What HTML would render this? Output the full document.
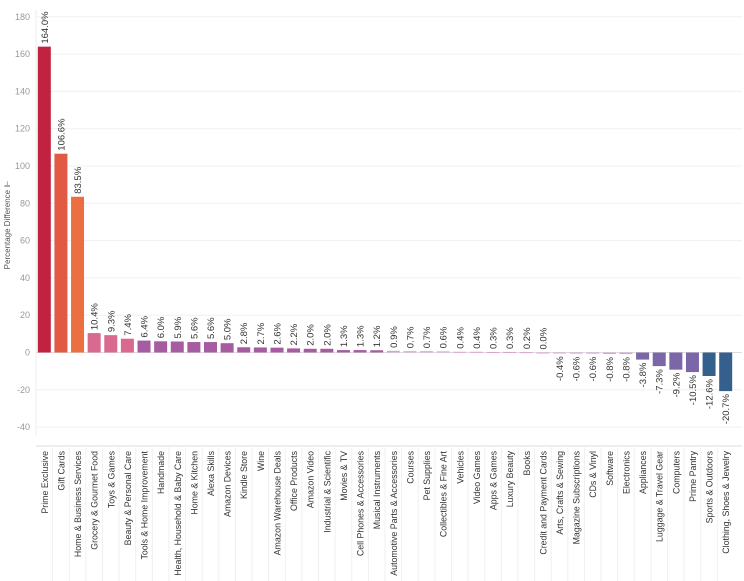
<!DOCTYPE html>
<html><head><meta charset="utf-8"><style>
body{margin:0;background:#fff;font-family:"Liberation Sans",sans-serif;}
svg{display:block}
</style></head><body>
<svg id="chart" width="744" height="581" xmlns="http://www.w3.org/2000/svg">
<g id="grid"></g>
<g id="yticks"></g>
<text transform="translate(10,225) rotate(-90)" text-anchor="middle" font-size="8" fill="#555">Percentage Difference ⊩</text>
<g id="bars"></g>
<g id="xlabels"></g>
</svg>
<script>
const categories=["Prime Exclusive","Gift Cards","Home & Business Services","Grocery & Gourmet Food","Toys & Games","Beauty & Personal Care","Tools & Home Improvement","Handmade","Health, Household & Baby Care","Home & Kitchen","Alexa Skills","Amazon Devices","Kindle Store","Wine","Amazon Warehouse Deals","Office Products","Amazon Video","Industrial & Scientific","Movies & TV","Cell Phones & Accessories","Musical Instruments","Automotive Parts & Accessories","Courses","Pet Supplies","Collectibles & Fine Art","Vehicles","Video Games","Apps & Games","Luxury Beauty","Books","Credit and Payment Cards","Arts, Crafts & Sewing","Magazine Subscriptions","CDs & Vinyl","Software","Electronics","Appliances","Luggage & Travel Gear","Computers","Prime Pantry","Sports & Outdoors","Clothing, Shoes & Jewelry"];
const values=[164.0,106.6,83.5,10.4,9.3,7.4,6.4,6.0,5.9,5.6,5.6,5.0,2.8,2.7,2.6,2.2,2.0,2.0,1.3,1.3,1.2,0.9,0.7,0.7,0.6,0.4,0.4,0.3,0.3,0.2,0.0,-0.4,-0.6,-0.6,-0.8,-0.8,-3.8,-7.3,-9.2,-10.5,-12.6,-20.7];
const yTicks=[-40,-20,0,20,40,60,80,100,120,140,160,180];
const NS="http://www.w3.org/2000/svg";
const plotL=36,plotR=734,plotT=10,plotB=436;
const yS=v=>352.5-v*1.865;
const step=(plotR-plotL)/categories.length;
const xS=i=>plotL+step*(i+0.5);
function color(v){
 if(v>=150)return"#c0223f"; if(v>=100)return"#e05a45"; if(v>=50)return"#ec6f42";
 if(v>=7)return"#d9698f"; if(v>=1)return"#a65ca0"; if(v>=-1)return"#d9a3d0";
 if(v>=-11)return"#7b66a8"; return"#355f8d";}
function mk(tag,attrs,parent){const e=document.createElementNS(NS,tag);for(const k in attrs)e.setAttribute(k,attrs[k]);parent.appendChild(e);return e;}
const grid=document.getElementById('grid'),yt=document.getElementById('yticks'),bars=document.getElementById('bars'),xl=document.getElementById('xlabels');
yTicks.forEach(t=>{
 const l=mk('line',{x1:plotL,x2:742,y1:yS(t),y2:yS(t),stroke:t===0?'#ddd':'#f0f0f0','stroke-width':1},grid);
 
 
 const tx=mk('text',{x:30,y:yS(t)+3,'text-anchor':'end','font-size':9,fill:'#999'},yt);
 tx.textContent=t;
 
 
});
mk('line',{x1:plotL,x2:plotL,y1:plotT,y2:plotB,stroke:'#eee'},grid);
mk('line',{x1:plotL,x2:742,y1:446,y2:446,stroke:'#ddd'},grid);
categories.forEach((c,i)=>{
 const v=values[i],cx=xS(i),y0=yS(0),y1=yS(v);
 const r=mk('rect',{x:cx-6.5,y:Math.min(y0,y1),width:13,height:Math.max(1,Math.abs(y1-y0)),fill:color(v)},bars);
 
 
 const ly=v>=0?y1-3:y1+3;
 const t=mk('text',{transform:`translate(${cx+3.5},${ly}) rotate(-90)`,'text-anchor':v>=0?'start':'end','font-size':9.5,fill:'#333'},bars);
 t.textContent=v.toFixed(1)+'%';
 
 
 const lab=mk('text',{transform:`translate(${cx+3.5},451) rotate(-90)`,'text-anchor':'end','font-size':8.8,fill:'#333'},xl);
 lab.textContent=c;
 
 
 if(i>0){const d=mk('line',{x1:cx-step/2,x2:cx-step/2,y1:446,y2:581,stroke:'#f0f0f0'},xl);
 
 }
});
</script>
</body></html>
